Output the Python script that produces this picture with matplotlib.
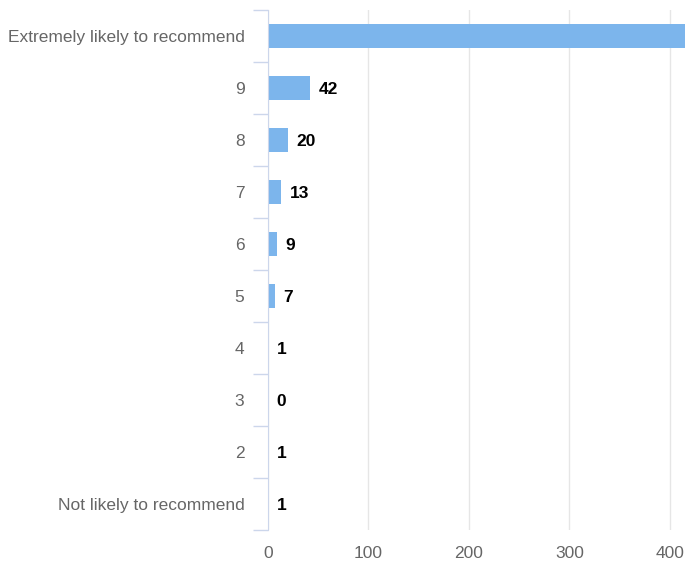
import matplotlib.pyplot as plt

categories = ["Extremely likely to recommend", "9", "8", "7", "6", "5", "4", "3", "2",
              "Not likely to recommend"]
counts = [480, 42, 20, 13, 9, 7, 1, 0, 1, 1]

plt.rcParams['font.family'] = ['Liberation Sans', 'DejaVu Sans']

fig = plt.figure(figsize=(6.85, 5.66), dpi=100)
ax = fig.add_axes([268 / 685, 1 - 530 / 566, 1 - 268 / 685, 520 / 566])

pos = list(range(len(categories)))
ax.barh(pos, counts, height=0.45, color='#7cb5ec', zorder=2)
for p, v in zip(pos, counts):
    ax.annotate(str(v), (v, p), xytext=(6, -1), textcoords='offset points',
                va='center', ha='left', fontsize=12.5, fontweight='bold',
                color='black', annotation_clip=True, clip_on=True)

ax.set_xlim(0, 415)
ax.set_ylim(len(categories) - 0.5, -0.5)
ax.set_xticks([0, 100, 200, 300, 400])
ax.xaxis.grid(True, color='#e6e6e6', linewidth=1, zorder=0)
ax.tick_params(axis='x', length=0, pad=11.5, labelsize=12.5, labelcolor='#666666')

ax.set_yticks([p - 0.5 for p in pos] + [len(categories) - 0.5])
ax.set_yticklabels([])
ax.tick_params(axis='y', which='major', length=11, color='#ccd6eb', width=1)
ax.set_yticks(pos, minor=True)
ax.set_yticklabels(categories, minor=True)
ax.tick_params(axis='y', which='minor', length=0, pad=17, labelsize=12.5, labelcolor='#666666')

for s in ['top', 'right', 'bottom']:
    ax.spines[s].set_visible(False)
ax.spines['left'].set_color('#ccd6eb')
ax.set_axisbelow(True)

fig.savefig('out.png', dpi=100)
